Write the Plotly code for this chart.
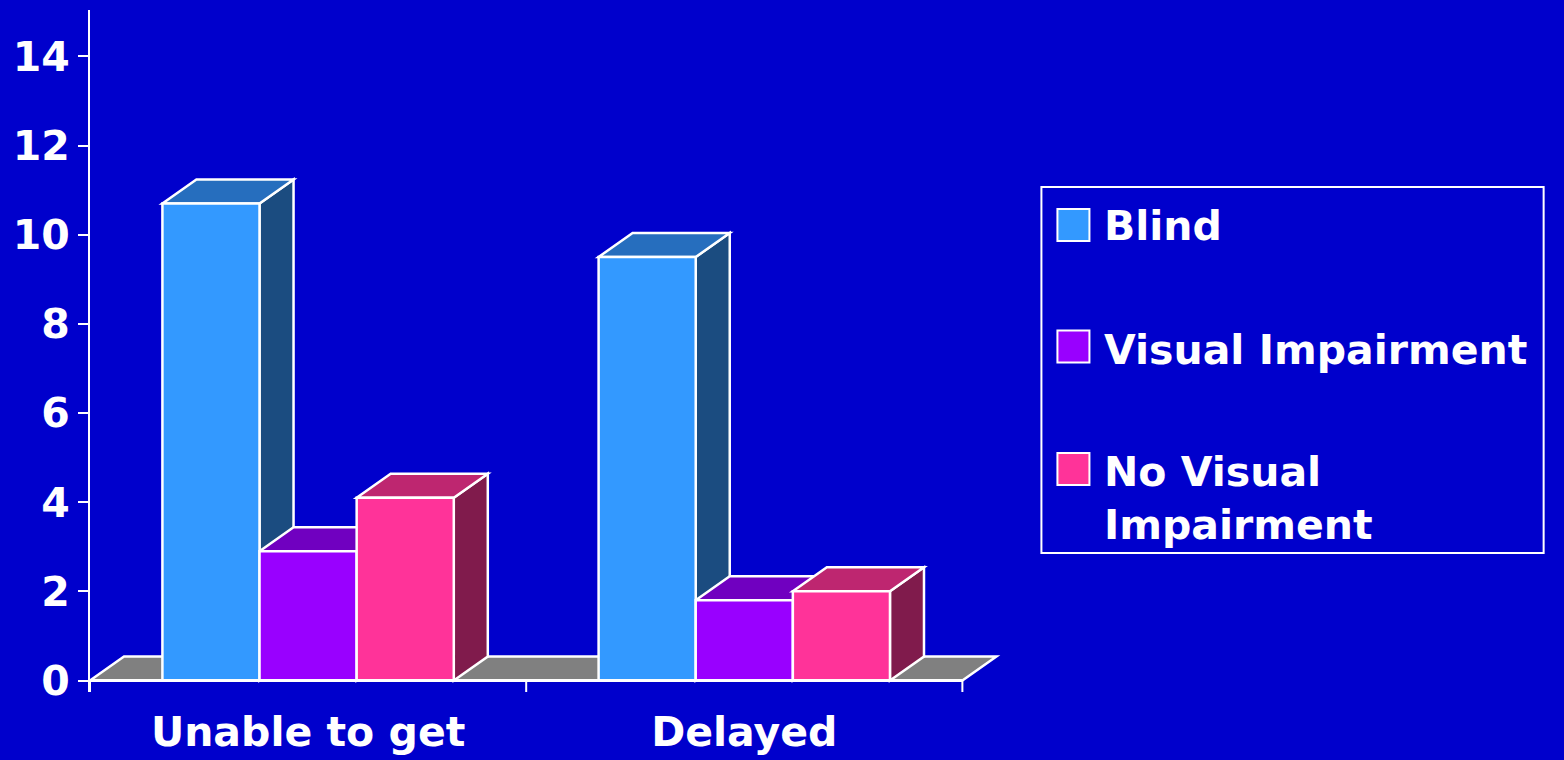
import plotly.graph_objects as go

# ---- data -------------------------------------------------------------
categories = ["Unable to get", "Delayed"]
series_names = ["Blind", "Visual Impairment", "No Visual Impairment"]
legend_labels = ["Blind", "Visual Impairment", "No Visual<br>Impairment"]
blind = [10.7, 9.5]
visual_impairment = [2.9, 1.8]
no_visual_impairment = [4.1, 2.0]
y_tick_values = [0, 2, 4, 6, 8, 10, 12, 14]

series_values = [blind, visual_impairment, no_visual_impairment]

# ---- styling ----------------------------------------------------------
BG = "#0000CC"
WHITE = "#FFFFFF"
FLOOR = "#808080"
front_colors = ["#3399FF", "#9900FF", "#FF3399"]
top_colors = ["#266EBE", "#7000C0", "#BE2670"]
side_colors = ["#1B4C80", "#4C0080", "#801B4C"]
FONT = dict(family="DejaVu Sans", size=41, color=WHITE, weight="bold")
EDGE = 2.5

W, H = 1564, 760
plot_left, plot_top, plot_bottom = 90, 10, 692
x_range = [0, 2.1]
px_per_x = 436.0
y_range = [-0.258, 15.04]
plot_w = (x_range[1] - x_range[0]) * px_per_x
plot_h = plot_bottom - plot_top

# 3-D extrusion offsets, in axis units
depth_x = 34 / px_per_x
depth_y = 24 / (plot_h / (y_range[1] - y_range[0]))

group_width = 0.668
bar_width = group_width / len(series_names)
centers = [i + 0.5 for i in range(len(categories))]


def paper_x(px):
    return (px - plot_left) / plot_w


def paper_y(py):
    return (plot_bottom - py) / plot_h


def poly(points):
    return "M " + " L ".join(f"{x},{y}" for x, y in points) + " Z"


shapes = []
# floor of the chart
n_cat = len(categories)
shapes.append(dict(
    type="path", xref="x", yref="y", layer="below",
    path=poly([(0, 0), (n_cat, 0), (n_cat + depth_x, depth_y), (depth_x, depth_y)]),
    fillcolor=FLOOR, line=dict(color=WHITE, width=EDGE),
))
# front edge of the floor and category tick marks below it
shapes.append(dict(
    type="line", xref="x", yref="y", layer="above",
    x0=0, x1=n_cat, y0=0, y1=0, line=dict(color=WHITE, width=3),
))
for k in range(n_cat + 1):
    shapes.append(dict(
        type="line", xref="x", yref="y", layer="above",
        x0=k, x1=k, y0=0, y1=y_range[0],
        line=dict(color=WHITE, width=2),
    ))

# side and top faces of each column, drawn left to right
for c, center in enumerate(centers):
    for s, values in enumerate(series_values):
        v = values[c]
        left = center - group_width / 2 + s * bar_width
        right = left + bar_width
        shapes.append(dict(
            type="path", xref="x", yref="y", layer="below",
            path=poly([(right, 0), (right + depth_x, depth_y),
                       (right + depth_x, v + depth_y), (right, v)]),
            fillcolor=side_colors[s], line=dict(color=WHITE, width=EDGE),
        ))
        shapes.append(dict(
            type="path", xref="x", yref="y", layer="below",
            path=poly([(left, v), (right, v),
                       (right + depth_x, v + depth_y), (left + depth_x, v + depth_y)]),
            fillcolor=top_colors[s], line=dict(color=WHITE, width=EDGE),
        ))

fig = go.Figure()
# front faces of the columns
for s, (name, values) in enumerate(zip(series_names, series_values)):
    fig.add_trace(go.Bar(
        name=name, x=centers, y=values,
        width=bar_width, offset=-group_width / 2 + s * bar_width,
        marker=dict(color=front_colors[s], line=dict(color=WHITE, width=EDGE)),
        showlegend=False, hoverinfo="x+y+name",
    ))

# legend box
annotations = []
shapes.append(dict(
    type="rect", xref="paper", yref="paper", layer="above",
    x0=paper_x(1041), x1=paper_x(1543), y0=paper_y(553), y1=paper_y(187),
    line=dict(color=WHITE, width=2), fillcolor="rgba(0,0,0,0)",
))
swatch_centers = [225, 346.5, 469]
text_centers = [226, 350, 498]
for s, label in enumerate(legend_labels):
    cy = swatch_centers[s]
    shapes.append(dict(
        type="rect", xref="paper", yref="paper", layer="above",
        x0=paper_x(1057), x1=paper_x(1089), y0=paper_y(cy + 16), y1=paper_y(cy - 16),
        line=dict(color=WHITE, width=2), fillcolor=front_colors[s],
    ))
    annotations.append(dict(
        xref="paper", yref="paper", x=paper_x(1102), y=paper_y(text_centers[s]),
        xanchor="left", yanchor="middle", align="left", showarrow=False,
        text=label, font=FONT,
    ))

fig.update_layout(
    width=W, height=H,
    margin=dict(l=plot_left, r=W - plot_left - plot_w, t=plot_top, b=H - plot_bottom, pad=0),
    paper_bgcolor=BG, plot_bgcolor=BG,
    barmode="overlay",
    shapes=shapes, annotations=annotations,
    showlegend=False,
    xaxis=dict(
        range=x_range, tickmode="array", tickvals=centers, ticktext=categories,
        ticks="", showline=False, showgrid=False, zeroline=False,
        tickfont=FONT, ticklabelstandoff=12, automargin=False, fixedrange=True,
    ),
    yaxis=dict(
        range=y_range, tickmode="array", tickvals=y_tick_values,
        ticks="outside", ticklen=10, tickwidth=2, tickcolor=WHITE,
        showline=True, linecolor=WHITE, linewidth=2, automargin=False,
        showgrid=False, zeroline=False, tickfont=FONT, fixedrange=True,
    ),
)

fig.write_html("out.html")
